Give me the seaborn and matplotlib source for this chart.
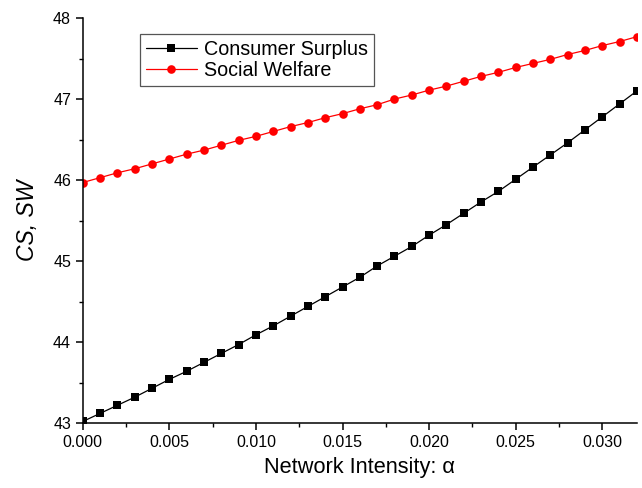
import numpy as np
import pandas as pd
import matplotlib
matplotlib.use("Agg")
import matplotlib.pyplot as plt
from matplotlib.ticker import MultipleLocator, FormatStrFormatter
import seaborn as sns

# network intensity alpha, 0.000 ... 0.032
alpha = [0.000, 0.001, 0.002, 0.003, 0.004, 0.005, 0.006, 0.007, 0.008, 0.009,
         0.010, 0.011, 0.012, 0.013, 0.014, 0.015, 0.016, 0.017, 0.018, 0.019,
         0.020, 0.021, 0.022, 0.023, 0.024, 0.025, 0.026, 0.027, 0.028, 0.029,
         0.030, 0.031, 0.032]

consumer_surplus = [43.02, 43.12, 43.22, 43.32, 43.43, 43.54, 43.64, 43.75, 43.86, 43.97,
                    44.09, 44.20, 44.32, 44.44, 44.56, 44.68, 44.80, 44.94, 45.06, 45.18,
                    45.32, 45.45, 45.59, 45.73, 45.86, 46.01, 46.16, 46.31, 46.46, 46.62,
                    46.78, 46.94, 47.10]

social_welfare = [45.97, 46.03, 46.09, 46.14, 46.20, 46.26, 46.32, 46.37, 46.43, 46.49,
                  46.54, 46.60, 46.66, 46.71, 46.77, 46.82, 46.88, 46.93, 47.00, 47.05,
                  47.11, 47.16, 47.22, 47.28, 47.33, 47.39, 47.44, 47.49, 47.55, 47.60,
                  47.66, 47.71, 47.77]

df = pd.DataFrame({"alpha": alpha, "CS": consumer_surplus, "SW": social_welfare})

sns.set_style("ticks")
plt.rcParams['font.family'] = ['Liberation Sans', 'DejaVu Sans']
plt.rcParams['text.color'] = 'black'
plt.rcParams['axes.labelcolor'] = 'black'

fig = plt.figure(figsize=(6.42, 4.88), dpi=100)
ax = fig.add_axes([0.129, 0.133, 0.863, 0.830])

sns.lineplot(data=df, x="alpha", y="CS", ax=ax, color="black", marker="s",
             markersize=5.2, markeredgewidth=0, linewidth=0.9, label="Consumer Surplus")
sns.lineplot(data=df, x="alpha", y="SW", ax=ax, color="red", marker="o",
             markersize=6.2, markeredgewidth=0, linewidth=0.9, label="Social Welfare")

ax.set_xlim(0, 0.032)
ax.set_ylim(43, 48)
ax.xaxis.set_major_locator(MultipleLocator(0.005))
ax.xaxis.set_minor_locator(MultipleLocator(0.0025))
ax.xaxis.set_major_formatter(FormatStrFormatter("%.3f"))
ax.yaxis.set_major_locator(MultipleLocator(1))
ax.yaxis.set_minor_locator(MultipleLocator(0.5))

sns.despine(ax=ax)
for side in ["left", "bottom"]:
    ax.spines[side].set_linewidth(1.1)
    ax.spines[side].set_color("black")
ax.tick_params(which="major", direction="out", length=5, width=1.1, labelsize=11.5,
               colors="black", labelcolor="black")
ax.tick_params(which="minor", direction="out", length=3, width=1.0, colors="black")

ax.set_xlabel("Network Intensity: α", fontsize=15.7, labelpad=5)
ax.set_ylabel("CS, SW", fontsize=16.5, style="italic", labelpad=10)

leg = ax.legend(loc="upper left", bbox_to_anchor=(0.103, 0.960), borderaxespad=0,
                fontsize=14.2, frameon=True, fancybox=False, framealpha=1,
                edgecolor="#555555", handlelength=2.6, borderpad=0.3,
                labelspacing=0.1, handletextpad=0.35)
leg.get_frame().set_linewidth(0.9)

fig.savefig("out.png", dpi=100)
